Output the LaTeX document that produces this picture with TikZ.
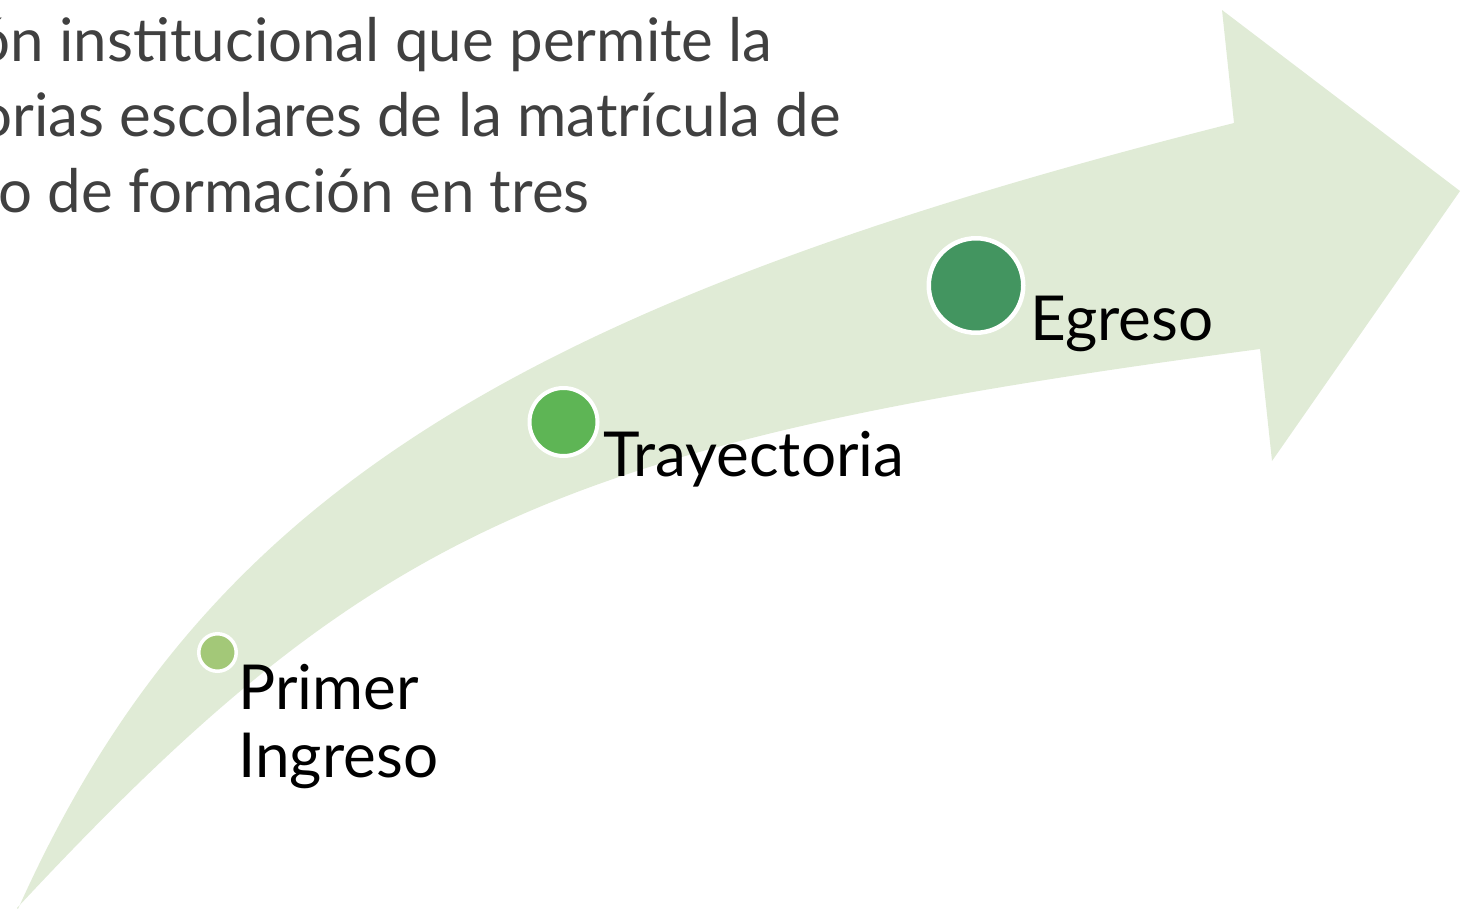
\documentclass[tikz,border=0pt]{standalone}
\usepackage{fontspec}
\setmainfont{Lato}
\definecolor{arrowfill}{HTML}{E0EBD6}
\definecolor{dotA}{HTML}{A3C878}
\definecolor{dotB}{HTML}{5EB555}
\definecolor{dotC}{HTML}{439560}
\definecolor{bodygray}{HTML}{404040}
\tikzset{
  bodyline/.style={anchor=base east, inner sep=0pt, text=bodygray, font=\fontsize{30}{37}\selectfont},
  steplabel/.style={anchor=base west, inner sep=0pt, text=black, font=\fontsize{31}{34}\selectfont, align=left},
  stepdot/.style={circle, draw=white, inner sep=0pt},
}
\begin{document}
\begin{tikzpicture}[x=0.5pt, y=-0.5pt]
\useasboundingbox (0,0) rectangle (1470,909);
\clip (0,0) rectangle (1470,909);
% curved arrow
\fill[arrowfill] (18,909)
  .. controls (200,503) and (504,307) .. (1234,123)
  -- (1222,10) -- (1460,191) -- (1272,461) -- (1260,349)
  .. controls (560,442) and (374,525) .. (17,908) -- cycle;
% body text (clipped at left)
\node[bodyline] (t1) at (773,62) {ón institucional que permite la};
\node[bodyline] (t2) at (841,137) {orias escolares de la matrícula de};
\node[bodyline] (t3) at (590,213) {o de formación en tres};
% dots
\node[stepdot, fill=dotA, line width=1.75pt, minimum size=18.75pt] (d1) at (217.5,652.5) {};
\node[stepdot, fill=dotB, line width=2pt, minimum size=34pt] (d2) at (563.5,422) {};
\node[stepdot, fill=dotC, line width=2.25pt, minimum size=47.25pt] (d3) at (976,285.5) {};
% labels
\node[steplabel] (l1) at (238,777) {Primer\\Ingreso};
\node[steplabel] (l2) at (603,476) {Trayectoria};
\node[steplabel] (l3) at (1030,340) {Egreso};
\end{tikzpicture}
\end{document}
